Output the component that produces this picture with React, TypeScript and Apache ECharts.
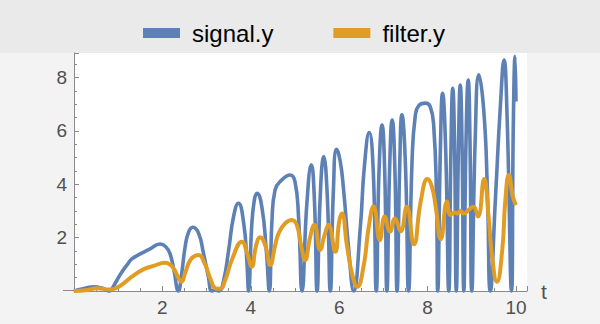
import React, { useEffect, useRef } from "react";
import * as echarts from "echarts";

const seriesNames = ["signal.y", "filter.y"];

const signalT = [
  0, 0.2, 0.45, 0.65, 0.8, 0.9, 1.04, 1.2, 1.31, 1.5, 1.72, 1.95, 2.08, 2.17, 2.26, 2.36,
  2.44, 2.51, 2.59, 2.69, 2.82, 2.93, 3.04, 3.12, 3.2, 3.28, 3.38, 3.5, 3.61, 3.72, 3.84, 3.91,
  3.95, 4.02, 4.08, 4.14, 4.25, 4.35, 4.42, 4.48, 4.55, 4.7, 4.89, 5.0, 5.08, 5.16, 5.27, 5.37,
  5.44, 5.5, 5.57, 5.65, 5.73, 5.8, 5.87, 5.94, 6.02, 6.1, 6.21, 6.33, 6.48, 6.57, 6.68, 6.77,
  6.84, 6.9, 6.97, 7.03, 7.08, 7.14, 7.2, 7.26, 7.31, 7.37, 7.42, 7.5, 7.57, 7.65, 7.72, 7.8,
  7.95, 8.06, 8.14, 8.2, 8.23, 8.29, 8.34, 8.41, 8.48, 8.53, 8.57, 8.61, 8.65, 8.7, 8.74, 8.78,
  8.82, 8.87, 8.92, 8.96, 9.0, 9.08, 9.16, 9.27, 9.35, 9.42, 9.54, 9.65, 9.73, 9.8, 9.9, 9.94,
  9.98, 10.0,
];
const signalY = [
  0, 0.08, 0.16, 0.1, 0, 0.2, 0.6, 0.98, 1.2, 1.39, 1.58, 1.76, 1.65, 1.41, 0.79, 0,
  0.7, 1.6, 2.2, 2.39, 2.16, 1.41, 0.54, 0, 0.04, 0, 0.35, 1.54, 2.79, 3.29, 2.54, 1.16,
  0, 2.4, 3.4, 3.66, 3.16, 1.54, 0, 2.66, 3.79, 4.16, 4.35, 4.1, 2.79, 0, 3.3, 4.73,
  3.4, 0, 3.5, 5.04, 3.6, 0, 3.8, 5.31, 4.9, 3.79, 1.66, 0, 2.41, 4.66, 5.94, 4.54,
  0, 4.4, 6.22, 4.5, 0, 4.5, 6.41, 4.6, 0, 4.7, 6.6, 4.7, 0, 4.91, 6.54, 6.95,
  7.04, 6.91, 6.16, 3.66, 0, 5.3, 7.41, 5.3, 0, 5.4, 7.6, 5.5, 0, 5.5, 7.72, 5.5,
  0, 5.6, 7.91, 5.6, 0, 5.8, 8.1, 6.8, 4.0, 0, 3.6, 7.0, 8.66, 6.5, 0, 6.2,
  8.8, 7.1,
];

const filterT = [
  0, 0.3, 0.51, 0.82, 1.04, 1.31, 1.57, 1.8, 2.06, 2.18, 2.27, 2.36, 2.43, 2.52, 2.65, 2.82,
  2.95, 3.1, 3.2, 3.3, 3.42, 3.58, 3.8, 3.92, 4.02, 4.12, 4.21, 4.33, 4.44, 4.55, 4.63, 4.78,
  4.93, 5.04, 5.14, 5.23, 5.34, 5.44, 5.57, 5.67, 5.76, 5.91, 6.0, 6.06, 6.18, 6.29, 6.41, 6.55,
  6.67, 6.78, 6.92, 7.03, 7.15, 7.26, 7.39, 7.53, 7.69, 7.85, 8.0, 8.1, 8.18, 8.3, 8.44, 8.52,
  8.62, 8.68, 8.74, 8.82, 8.93, 9.04, 9.14, 9.28, 9.38, 9.46, 9.57, 9.69, 9.76, 9.84, 9.93, 10.0,
];
const filterY = [
  0, 0.04, 0.1, 0.06, 0.19, 0.54, 0.81, 0.94, 1.06, 0.98, 0.8, 0.5, 0.35, 0.7, 1.2, 1.35,
  1.05, 0.4, 0.1, 0.08, 0.4, 1.2, 1.85, 1.4, 0.91, 1.7, 2.01, 1.7, 0.97, 1.7, 2.16, 2.54,
  2.66, 2.48, 1.7, 1.16, 2.0, 2.48, 1.54, 2.1, 2.48, 1.47, 2.6, 2.9, 1.66, 0.66, 0.16, 0.91,
  2.41, 3.18, 1.91, 2.79, 2.23, 2.72, 2.24, 3.16, 1.75, 3.4, 4.2, 3.9, 3.2, 1.94, 3.35, 2.85,
  2.94, 2.9, 3.01, 2.9, 3.04, 3.16, 2.79, 4.2, 2.8, 1.29, 0.35, 1.54, 3.41, 4.35, 3.54, 3.22,
];

const xTickInterval = 2;
const yTickInterval = 2;

const zip = (a: number[], b: number[]) => a.map((v, i) => [v, b[i]]);

export default function App() {
  const ref = useRef<HTMLDivElement>(null);
  useEffect(() => {
    if (!ref.current) return;
    const chart = echarts.init(ref.current, undefined, { renderer: "svg" });
    const font = "'Liberation Sans', Arial, sans-serif";
    const axisColor = "#8a8a8a";
    const labelColor = "#505050";
    const tickLabel = (v: number) => (v === 0 || v % 2 !== 0 ? "" : String(v));
    chart.setOption({
      animation: false,
      backgroundColor: "#f3f3f3",
      textStyle: { fontFamily: font },
      graphic: [
        {
          type: "rect",
          z: 0,
          silent: true,
          shape: { x: 0, y: 0, width: 600, height: 53 },
          style: { fill: "#eaeaea" },
        },
        {
          type: "line",
          z: 10,
          silent: true,
          shape: { x1: 63, y1: 290.5, x2: 74, y2: 290.5 },
          style: { stroke: axisColor, lineWidth: 1 },
        },
      ],
      legend: {
        data: seriesNames,
        left: 138,
        top: 16,
        icon: "rect",
        itemWidth: 37,
        itemHeight: 10,
        itemGap: 60,
        textStyle: { fontSize: 24, color: "#000", fontFamily: font, padding: [0, 0, 0, 7] },
      },
      grid: {
        left: 74,
        right: 73,
        top: 53,
        bottom: 33,
        show: true,
        backgroundColor: "#ffffff",
        borderWidth: 0,
      },
      xAxis: {
        type: "value",
        min: 0,
        max: 10.25,
        interval: xTickInterval,
        name: "t",
        nameLocation: "end",
        nameGap: 14,
        nameTextStyle: { fontSize: 21, color: labelColor, fontFamily: font },
        axisLine: { show: true, onZero: false, lineStyle: { color: axisColor, width: 1 } },
        axisTick: { show: true, inside: true, length: 5, lineStyle: { color: axisColor } },
        minorTick: { show: true, splitNumber: 4, length: 3, lineStyle: { color: axisColor } },
        splitLine: { show: false },
        axisLabel: { fontSize: 19, color: labelColor, margin: 7, formatter: tickLabel, showMaxLabel: false, fontFamily: font },
      },
      yAxis: {
        type: "value",
        min: 0,
        max: 8.92,
        interval: yTickInterval,
        axisLine: { show: true, lineStyle: { color: axisColor, width: 1 } },
        axisTick: { show: true, inside: true, length: 5, lineStyle: { color: axisColor } },
        minorTick: { show: true, splitNumber: 4, length: 3, lineStyle: { color: axisColor } },
        splitLine: { show: false },
        axisLabel: { fontSize: 19, color: labelColor, margin: 7, formatter: tickLabel, showMaxLabel: false, fontFamily: font },
      },
      series: [
        {
          name: seriesNames[0],
          type: "line",
          data: zip(signalT, signalY),
          showSymbol: false,
          smooth: 0.5,
          clip: false,
          color: "#5e81b5",
          lineStyle: { width: 3.6, color: "#5e81b5" },
          z: 2,
        },
        {
          name: seriesNames[1],
          type: "line",
          data: zip(filterT, filterY),
          showSymbol: false,
          smooth: 0.5,
          clip: false,
          color: "#e19c24",
          lineStyle: { width: 4, color: "#e19c24" },
          z: 3,
        },
      ],
    });
    return () => chart.dispose();
  }, []);
  return (
    <div
      ref={ref}
      style={{ position: "fixed", left: 0, top: 0, width: 600, height: 324 }}
    />
  );
}
